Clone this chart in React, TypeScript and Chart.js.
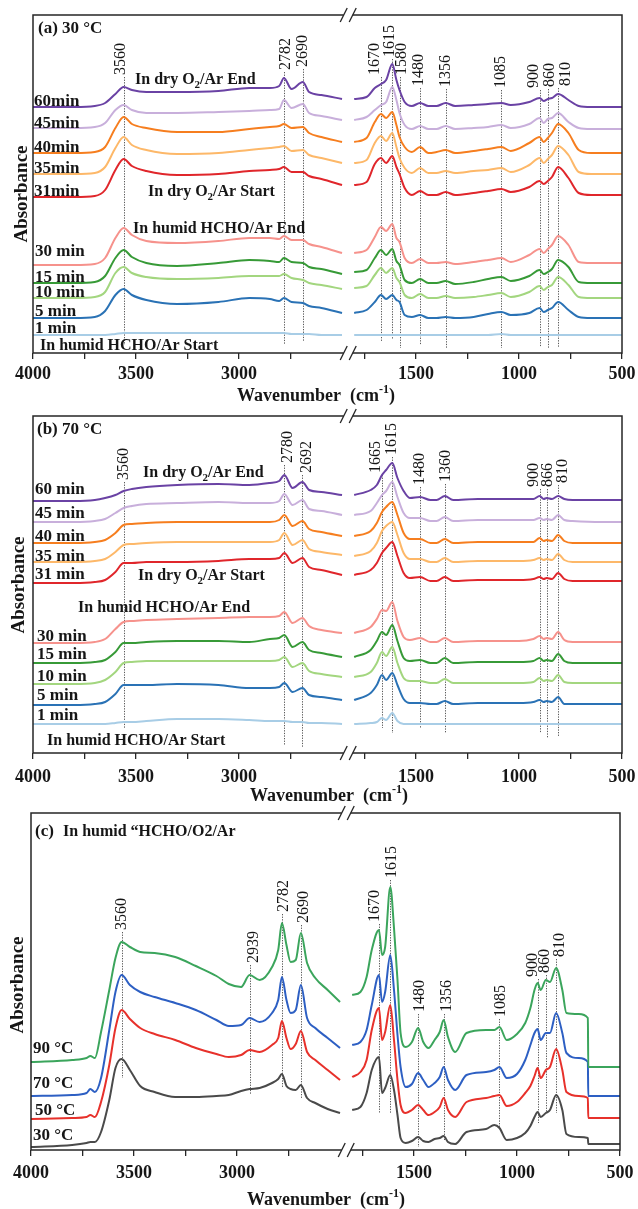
import React, { useEffect, useRef } from "react";
import { Chart, registerables } from "chart.js";

Chart.register(...registerables);

const FONT = '"Liberation Serif", "Times New Roman", serif';
const INK = "#161616";

// ---------------- shared broken wavenumber axis ----------------
const MAJOR_TICKS = [4000, 3500, 3000, 1500, 1000, 500];
const MINOR_TICKS = [3750, 3250, 2750, 1750, 1250, 750];
const U_MAX = 2859;
const BREAK_U = 1530;
const toU = (w: number) => (w >= 2150 ? 4000 - w : 3359 - w);
const fromU = (u: number) => (u <= BREAK_U ? 4000 - u : 3359 - u);

// ---------------- panel (a) 30 °C ----------------
const A_NAMES = ["60min", "45min", "40min", "35min", "31min", "30 min", "15 min", "10 min", "5 min", "1 min"];
const A_COLORS = ["#6a42a4", "#c8afdb", "#f67e1f", "#fdb869", "#e0262b", "#f6928c", "#379a37", "#a3d67f", "#2a72b5", "#a8cde6"];
const A_LEFT_WN = [4000, 3800, 3700, 3650, 3600, 3560, 3520, 3450, 3300, 3100, 2950, 2850, 2805, 2782, 2745, 2690, 2660, 2600, 2500];
const A_LEFT = [
  [246, 246, 247, 250, 259, 266, 263, 261, 261, 262, 265, 265, 267, 275, 264, 271, 261, 258, 254],
  [225, 225, 226, 230, 243, 248, 243, 240, 240, 241, 242, 243, 244, 253, 245, 249, 240, 237, 233],
  [200, 200, 201, 206, 225, 236, 229, 225, 221, 221, 224, 226, 227, 229, 225, 226, 220, 216, 211],
  [179, 179, 180, 186, 205, 216, 208, 203, 199, 200, 203, 205, 206, 207, 202, 203, 198, 195, 190],
  [156, 156, 157, 163, 183, 194, 187, 182, 178, 179, 182, 183, 184, 186, 181, 181, 177, 174, 168],
  [88, 88, 89, 95, 115, 125, 118, 112, 110, 112, 115, 115, 114, 117, 113, 113, 109, 106, 100],
  [70, 70, 71, 77, 95, 103, 96, 90, 87, 90, 93, 92, 91, 95, 91, 90, 86, 84, 79],
  [55, 55, 56, 61, 80, 86, 80, 76, 74, 75, 77, 77, 77, 79, 75, 73, 70, 68, 64],
  [35, 35, 36, 42, 58, 64, 58, 53, 49, 51, 55, 54, 52, 55, 51, 50, 47, 45, 40],
  [18, 18, 18, 18, 19, 20, 20, 20, 20, 20, 20, 20, 20, 20, 19, 19, 19, 18, 18],
];
const A_RIGHT_WN = [1800, 1740, 1700, 1670, 1645, 1615, 1595, 1580, 1555, 1520, 1480, 1440, 1400, 1356, 1310, 1220, 1150, 1085, 1040, 950, 900, 880, 860, 840, 810, 760, 710, 650, 500];
const A_RIGHT = [
  [254, 256, 265, 269, 273, 289, 273, 263, 251, 247, 250, 247, 247, 250, 247, 248, 249, 250, 248, 251, 255, 252, 254, 255, 259, 253, 247, 246, 246],
  [233, 236, 243, 248, 251, 266, 253, 240, 228, 224, 227, 224, 224, 227, 224, 225, 226, 228, 225, 229, 235, 230, 234, 235, 240, 231, 225, 224, 224],
  [211, 215, 231, 239, 235, 241, 228, 216, 206, 201, 206, 200, 201, 203, 200, 202, 204, 206, 202, 210, 216, 211, 215, 220, 229, 220, 203, 200, 200],
  [190, 193, 210, 217, 212, 220, 206, 195, 185, 180, 185, 180, 180, 182, 180, 182, 183, 185, 181, 188, 195, 190, 194, 198, 207, 198, 181, 179, 179],
  [168, 171, 189, 195, 190, 197, 186, 179, 165, 158, 162, 158, 158, 161, 158, 160, 162, 164, 161, 166, 172, 169, 172, 176, 186, 175, 160, 158, 158],
  [100, 103, 116, 126, 122, 129, 115, 111, 95, 90, 94, 90, 90, 91, 89, 91, 93, 95, 91, 98, 104, 100, 104, 108, 117, 108, 91, 90, 90],
  [81, 83, 95, 103, 98, 104, 92, 88, 73, 70, 74, 70, 70, 72, 69, 71, 74, 76, 72, 77, 83, 79, 81, 84, 93, 86, 71, 70, 70],
  [65, 67, 78, 85, 80, 85, 75, 71, 58, 55, 59, 55, 55, 57, 55, 56, 58, 60, 56, 61, 67, 63, 66, 68, 76, 68, 56, 55, 55],
  [40, 43, 51, 58, 54, 58, 53, 51, 38, 36, 38, 35, 35, 36, 35, 36, 39, 41, 38, 40, 45, 41, 43, 45, 51, 43, 36, 35, 35],
  [18, 18, 18, 18, 18, 18, 18, 18, 18, 18, 18, 18, 18, 18, 18, 18, 18, 19, 18, 18, 18, 18, 18, 18, 18, 18, 18, 18, 18],
];
const A_PEAKS = [3560, 2782, 2690, 1670, 1615, 1580, 1480, 1356, 1085, 900, 860, 810];
const A_CONDS = ["In dry O_2/Ar End", "In dry O_2/Ar Start", "In humid HCHO/Ar End", "In humid HCHO/Ar Start"];

// ---------------- panel (b) 70 °C ----------------
const B_NAMES = ["60 min", "45 min", "40 min", "35 min", "31 min", "30 min", "15 min", "10 min", "5 min", "1 min"];
const B_COLORS = A_COLORS;
const B_LEFT_WN = [4000, 3800, 3700, 3650, 3600, 3560, 3520, 3450, 3300, 3100, 2950, 2850, 2805, 2780, 2740, 2692, 2660, 2600, 2500];
const B_LEFT = [
  [252, 252, 253, 255, 258, 262, 264, 266, 268, 269, 268, 270, 272, 278, 265, 271, 263, 261, 258],
  [231, 231, 232, 234, 240, 245, 247, 249, 250, 251, 250, 250, 252, 259, 248, 253, 244, 242, 238],
  [210, 210, 211, 213, 220, 228, 229, 230, 231, 231, 231, 231, 233, 238, 227, 232, 224, 221, 217],
  [191, 191, 192, 194, 201, 208, 209, 210, 211, 211, 211, 211, 213, 220, 208, 213, 204, 201, 198],
  [170, 170, 171, 173, 181, 190, 190, 191, 191, 192, 194, 194, 195, 200, 190, 195, 186, 183, 178],
  [110, 110, 111, 114, 124, 131, 132, 133, 134, 135, 136, 136, 137, 141, 130, 135, 127, 123, 120],
  [90, 90, 91, 93, 101, 110, 110, 111, 112, 112, 111, 114, 115, 118, 106, 111, 103, 100, 96],
  [69, 69, 70, 73, 81, 90, 91, 92, 92, 92, 92, 92, 93, 96, 86, 90, 82, 79, 76],
  [48, 48, 49, 51, 59, 68, 68, 68, 69, 68, 65, 65, 66, 70, 61, 65, 58, 56, 53],
  [29, 29, 29, 29, 30, 31, 31, 32, 34, 34, 33, 32, 32, 32, 31, 31, 30, 30, 29],
];
const B_RIGHT_WN = [1800, 1720, 1690, 1665, 1645, 1615, 1590, 1560, 1530, 1480, 1430, 1400, 1360, 1320, 1200, 1000, 930, 900, 880, 866, 840, 810, 780, 740, 600, 500];
const B_RIGHT = [
  [258, 263, 268, 278, 283, 290, 275, 262, 255, 256, 253, 253, 257, 253, 254, 254, 254, 257, 254, 255, 254, 257, 254, 253, 253, 253],
  [238, 242, 250, 258, 262, 271, 256, 240, 235, 235, 232, 232, 236, 232, 233, 233, 233, 235, 233, 234, 233, 238, 233, 232, 231, 231],
  [217, 222, 230, 241, 246, 251, 238, 220, 214, 214, 210, 210, 214, 210, 211, 211, 211, 215, 212, 213, 212, 218, 212, 210, 210, 210],
  [197, 202, 210, 222, 227, 231, 218, 200, 194, 194, 191, 191, 195, 191, 192, 192, 193, 195, 193, 194, 193, 199, 193, 191, 191, 191],
  [178, 183, 190, 200, 205, 211, 197, 180, 175, 176, 172, 172, 176, 172, 173, 173, 174, 176, 174, 175, 174, 180, 174, 172, 172, 172],
  [120, 126, 134, 143, 142, 151, 132, 116, 113, 115, 111, 111, 115, 111, 112, 112, 114, 117, 114, 115, 114, 121, 113, 111, 111, 111],
  [96, 103, 112, 121, 118, 128, 112, 95, 92, 93, 90, 90, 95, 90, 91, 91, 92, 95, 92, 93, 92, 99, 92, 90, 90, 90],
  [76, 81, 90, 101, 97, 106, 90, 75, 72, 72, 70, 70, 74, 70, 70, 70, 71, 75, 72, 73, 72, 78, 71, 70, 70, 70],
  [53, 60, 68, 78, 73, 80, 68, 54, 50, 50, 49, 49, 52, 49, 50, 50, 51, 53, 51, 52, 51, 56, 49, 49, 49, 49],
  [29, 30, 31, 35, 33, 40, 32, 29, 29, 29, 29, 29, 29, 29, 29, 29, 29, 29, 29, 29, 29, 29, 29, 29, 29, 29],
];
const B_PEAKS = [3560, 2780, 2692, 1665, 1615, 1480, 1360, 900, 866, 810];
const B_CONDS = A_CONDS;

// ---------------- panel (c) humid HCHO/O2/Ar ----------------
const C_NAMES = ["90 °C", "70 °C", "50 °C", "30 °C"];
const C_COLORS = ["#3ba55c", "#2d5fc3", "#e7312b", "#4a4a4a"];
const C_LEFT_WN = [4000, 3800, 3730, 3712, 3690, 3660, 3620, 3590, 3560, 3520, 3470, 3400, 3300, 3200, 3100, 3040, 2980, 2939, 2890, 2830, 2800, 2782, 2760, 2740, 2715, 2690, 2660, 2620, 2560, 2500];
const C_LEFT = [
  [88, 90, 92, 94, 92, 118, 160, 192, 208, 203, 198, 197, 193, 184, 174, 166, 163, 175, 170, 183, 200, 227, 205, 188, 190, 217, 187, 172, 160, 148],
  [54, 55, 57, 61, 58, 72, 120, 158, 175, 165, 158, 153, 147, 140, 130, 124, 125, 132, 128, 137, 150, 173, 150, 137, 140, 165, 132, 122, 112, 102],
  [31, 32, 33, 35, 33, 48, 85, 122, 140, 131, 122, 116, 110, 102, 96, 93, 95, 100, 98, 105, 112, 129, 112, 101, 106, 119, 98, 90, 80, 70],
  [3, 5, 7, 8, 8, 18, 50, 82, 91, 80, 64, 58, 53, 53, 54, 55, 59, 61, 62, 67, 71, 76, 64, 61, 60, 65, 52, 47, 41, 37],
];
const C_RIGHT_WN = [1800, 1760, 1730, 1705, 1670, 1655, 1640, 1615, 1597, 1580, 1565, 1540, 1510, 1480, 1455, 1430, 1400, 1375, 1356, 1335, 1300, 1245, 1150, 1110, 1085, 1050, 1000, 960, 935, 915, 900, 885, 860, 840, 810, 780, 760, 700, 656, 654, 500];
const C_RIGHT = [
  [155, 158, 173, 200, 220, 195, 203, 263, 222, 170, 117, 103, 108, 122, 108, 102, 110, 118, 130, 113, 98, 117, 120, 120, 123, 110, 116, 127, 142, 160, 167, 160, 170, 168, 182, 160, 137, 136, 132, 83, 83],
  [105, 108, 120, 145, 175, 148, 158, 195, 160, 115, 83, 63, 66, 77, 70, 63, 67, 73, 83, 70, 60, 75, 78, 80, 83, 72, 76, 90, 105, 117, 121, 110, 117, 117, 137, 117, 97, 92, 88, 54, 54],
  [73, 78, 90, 120, 142, 110, 118, 145, 110, 70, 45, 37, 40, 45, 40, 35, 38, 43, 52, 40, 33, 48, 52, 54, 55, 44, 48, 57, 64, 74, 82, 72, 80, 83, 101, 80, 58, 54, 52, 32, 32],
  [40, 43, 57, 80, 93, 57, 62, 75, 60, 35, 12, 7, 9, 13, 9, 8, 11, 12, 14, 8, 6, 18, 21, 25, 22, 10, 12, 17, 24, 33, 38, 33, 37, 40, 55, 40, 16, 13, 12, 6, 6],
];
const C_PEAKS = [3560, 2939, 2782, 2690, 1670, 1615, 1480, 1356, 1085, 900, 860, 810];

// ---------------- layout (page pixel positions, kept apart from data) ----------------
type PanelCfg = {
  pageTop: number;
  height: number;
  area: { left: number; right: number; top: number; bottom: number };
  tickPad: number;
  names: string[];
  colors: string[];
  lw: number[]; lv: number[][]; rw: number[]; rv: number[][];
  titles: [string, number, number, number][];
  yTitle: [number, number];
  xTitle: [number, number];
  labelPos: number[][];
  conds: string[];
  condPos: number[][];
  peaks: number[];
  peakLayout: number[][]; // [dx, labelBottom, lineBottom]
};

const PANELS: PanelCfg[] = [
  {
    pageTop: 0, height: 405,
    area: { left: 33, right: 622, top: 15, bottom: 353 }, tickPad: 5,
    names: A_NAMES, colors: A_COLORS, lw: A_LEFT_WN, lv: A_LEFT, rw: A_RIGHT_WN, rv: A_RIGHT,
    titles: [["(a) 30 °C", 38, 33, 17]],
    yTitle: [22, 194], xTitle: [237, 401],
    labelPos: [[34, 106], [34, 128], [34, 152], [34, 173], [34, 196], [35, 256], [35, 282], [35, 297], [35, 316], [35, 333]],
    conds: A_CONDS, condPos: [[135, 84], [148, 196], [133, 233], [40, 350]],
    peaks: A_PEAKS,
    peakLayout: [[-3, 75, 345], [2, 70, 345], [0, 67, 341], [-6, 75, 341], [-2, 57, 339], [2, 75, 348], [-1, 86, 345], [0, 87, 348], [-1, 88, 348], [-6, 88, 347], [2, 87, 349], [8, 86, 348]],
  },
  {
    pageTop: 405, height: 400,
    area: { left: 33, right: 622, top: 416, bottom: 753 }, tickPad: 8,
    names: B_NAMES, colors: B_COLORS, lw: B_LEFT_WN, lv: B_LEFT, rw: B_RIGHT_WN, rv: B_RIGHT,
    titles: [["(b) 70 °C", 37, 434, 17]],
    yTitle: [19, 585], xTitle: [250, 801],
    labelPos: [[35, 494], [35, 518], [35, 541], [35, 561], [35, 579], [37, 641], [37, 659], [37, 681], [37, 700], [37, 720]],
    conds: B_CONDS, condPos: [[143, 477], [138, 580], [78, 612], [47, 745]],
    peaks: B_PEAKS,
    peakLayout: [[0, 480, 728], [3, 463, 745], [4, 473, 747], [-6, 473, 728], [0, 455, 733], [0, 485, 728], [1, 482, 733], [-6, 487, 733], [1, 487, 738], [5, 483, 736]],
  },
  {
    pageTop: 805, height: 404,
    area: { left: 31, right: 620, top: 813, bottom: 1150 }, tickPad: 7,
    names: C_NAMES, colors: C_COLORS, lw: C_LEFT_WN, lv: C_LEFT, rw: C_RIGHT_WN, rv: C_RIGHT,
    titles: [["(c)", 35, 836, 17], ["In humid “HCHO/O2/Ar", 63, 836, 16]],
    yTitle: [18, 985], xTitle: [247, 1205],
    labelPos: [[33, 1053], [33, 1088], [35, 1115], [33, 1140]],
    conds: [], condPos: [],
    peaks: C_PEAKS,
    peakLayout: [[0, 930, 1078], [4, 963, 1095], [2, 912, 1087], [3, 923, 1098], [-4, 922, 1113], [2, 878, 1113], [2, 1012, 1147], [3, 1012, 1140], [1, 1017, 1127], [-5, 977, 1123], [-1, 973, 1113], [4, 957, 1113]],
  },
];

const XAXIS_H = 40;

// ---------------- helpers ----------------
function parseRich(s: string) {
  const out: { t: string; k: number }[] = [];
  const re = /_(\w)|\^\{([^}]*)\}/g;
  let last = 0;
  let m: RegExpExecArray | null;
  while ((m = re.exec(s))) {
    if (m.index > last) out.push({ t: s.slice(last, m.index), k: 0 });
    out.push(m[1] !== undefined ? { t: m[1], k: 1 } : { t: m[2], k: 2 });
    last = re.lastIndex;
  }
  if (last < s.length) out.push({ t: s.slice(last), k: 0 });
  return out;
}

function drawRich(ctx: CanvasRenderingContext2D, s: string, x: number, y: number, size: number, weight: string) {
  let cx = x;
  for (const seg of parseRich(s)) {
    const sz = seg.k ? Math.round(size * 0.68) : size;
    ctx.font = `${weight} ${sz}px ${FONT}`;
    const dy = seg.k === 1 ? size * 0.28 : seg.k === 2 ? -size * 0.42 : 0;
    ctx.fillText(seg.t, cx, y + dy);
    cx += ctx.measureText(seg.t).width;
  }
}

function annotPlugin(cfg: PanelCfg) {
  const off = cfg.pageTop;
  return {
    id: "annot",
    beforeDatasetsDraw(chart: any) {
      const ctx: CanvasRenderingContext2D = chart.ctx;
      const xs = chart.scales.x;
      ctx.save();
      ctx.strokeStyle = "#5a5a5a";
      ctx.lineWidth = 1;
      ctx.setLineDash([1.3, 1.3]);
      cfg.peaks.forEach((w, i) => {
        const [, lb, bot] = cfg.peakLayout[i];
        const x = Math.round(xs.getPixelForValue(toU(w))) + 0.5;
        ctx.beginPath();
        ctx.moveTo(x, lb + 2 - off);
        ctx.lineTo(x, bot - off);
        ctx.stroke();
      });
      ctx.restore();
    },
    afterDraw(chart: any) {
      const ctx: CanvasRenderingContext2D = chart.ctx;
      const xs = chart.scales.x;
      const a = chart.chartArea;
      ctx.save();
      // frame
      ctx.strokeStyle = "#262626";
      ctx.lineWidth = 1.5;
      ctx.setLineDash([]);
      ctx.strokeRect(a.left, a.top, a.right - a.left, a.bottom - a.top);
      // axis break
      const bx = xs.getPixelForValue(BREAK_U);
      for (const yy of [a.top, a.bottom]) {
        ctx.fillStyle = "#ffffff";
        ctx.fillRect(bx - 4.5, yy - 2, 9, 4);
        ctx.strokeStyle = "#262626";
        ctx.lineWidth = 1.3;
        for (const s of [-4.5, 4.5]) {
          ctx.beginPath();
          ctx.moveTo(bx + s - 3.5, yy + 7);
          ctx.lineTo(bx + s + 3.5, yy - 7);
          ctx.stroke();
        }
      }
      ctx.fillStyle = INK;
      ctx.textAlign = "left";
      ctx.textBaseline = "alphabetic";
      // panel titles
      for (const [t, x, y, sz] of cfg.titles) drawRich(ctx, t, x, y - off, sz, "bold");
      // series labels
      cfg.names.forEach((n, i) => {
        const [x, y] = cfg.labelPos[i];
        drawRich(ctx, n, x, y - off, 17, "bold");
      });
      // condition labels
      cfg.conds.forEach((c, i) => {
        const [x, y] = cfg.condPos[i];
        drawRich(ctx, c, x, y - off, 16, "bold");
      });
      // x title
      drawRich(ctx, "Wavenumber  (cm^{-1})", cfg.xTitle[0], cfg.xTitle[1] - off, 18, "bold");
      // y title
      ctx.save();
      ctx.translate(cfg.yTitle[0], cfg.yTitle[1] - off);
      ctx.rotate(-Math.PI / 2);
      ctx.textAlign = "center";
      ctx.textBaseline = "middle";
      ctx.font = `bold 19px ${FONT}`;
      ctx.fillText("Absorbance", 0, 0);
      ctx.restore();
      // peak labels
      ctx.font = `16px ${FONT}`;
      cfg.peaks.forEach((w, i) => {
        const [dx, lb] = cfg.peakLayout[i];
        const x = xs.getPixelForValue(toU(w)) + dx;
        ctx.save();
        ctx.translate(x, lb - off);
        ctx.rotate(-Math.PI / 2);
        ctx.textAlign = "left";
        ctx.textBaseline = "middle";
        ctx.fillText(String(w), 0, 0);
        ctx.restore();
      });
      ctx.restore();
    },
  };
}

function buildDatasets(cfg: PanelCfg) {
  return cfg.names.map((n, i) => ({
    label: n,
    data: [
      ...cfg.lw.map((w, j) => ({ x: toU(w), y: cfg.lv[i][j] })),
      { x: BREAK_U, y: null },
      ...cfg.rw.map((w, j) => ({ x: toU(w), y: cfg.rv[i][j] })),
    ],
    borderColor: cfg.colors[i],
    borderWidth: 2,
    pointRadius: 0,
    fill: false,
    spanGaps: false,
    cubicInterpolationMode: "monotone" as const,
  }));
}

function Panel({ cfg }: { cfg: PanelCfg }) {
  const ref = useRef<HTMLCanvasElement>(null);
  useEffect(() => {
    const a = cfg.area;
    const localTop = a.top - cfg.pageTop;
    const localBottom = a.bottom - cfg.pageTop;
    const chart = new Chart(ref.current as HTMLCanvasElement, {
      type: "line",
      data: { datasets: buildDatasets(cfg) as any },
      options: {
        animation: false,
        responsive: false,
        devicePixelRatio: 1,
        layout: {
          padding: { left: a.left, right: 638 - a.right, top: localTop, bottom: cfg.height - localBottom - XAXIS_H },
        },
        plugins: { legend: { display: false }, tooltip: { enabled: false } },
        scales: {
          x: {
            type: "linear",
            min: 0,
            max: U_MAX,
            afterBuildTicks: (s: any) => {
              s.ticks = [...MAJOR_TICKS, ...MINOR_TICKS].map((w) => ({ value: toU(w) }));
            },
            afterFit: (s: any) => {
              s.height = XAXIS_H;
            },
            ticks: {
              autoSkip: false,
              maxRotation: 0,
              padding: cfg.tickPad,
              color: INK,
              font: { family: FONT, size: 18, weight: "bold" },
              callback: (v: any) => {
                const w = Math.round(fromU(Number(v)));
                return MAJOR_TICKS.includes(w) ? String(w) : "";
              },
            },
            grid: { drawOnChartArea: false, drawTicks: true, tickLength: 6, color: "#262626", lineWidth: 1.3 },
            border: { display: false },
          },
          y: { display: false, min: 0, max: a.bottom - a.top },
        },
      } as any,
      plugins: [annotPlugin(cfg)],
    });
    return () => chart.destroy();
  }, [cfg]);
  return <canvas ref={ref} width={638} height={cfg.height} style={{ display: "block", width: 638, height: cfg.height }} />;
}

export default function App() {
  return (
    <div style={{ position: "absolute", left: 0, top: 0, width: 638, height: 1209, background: "#fff" }}>
      {PANELS.map((p, i) => (
        <Panel key={i} cfg={p} />
      ))}
    </div>
  );
}
